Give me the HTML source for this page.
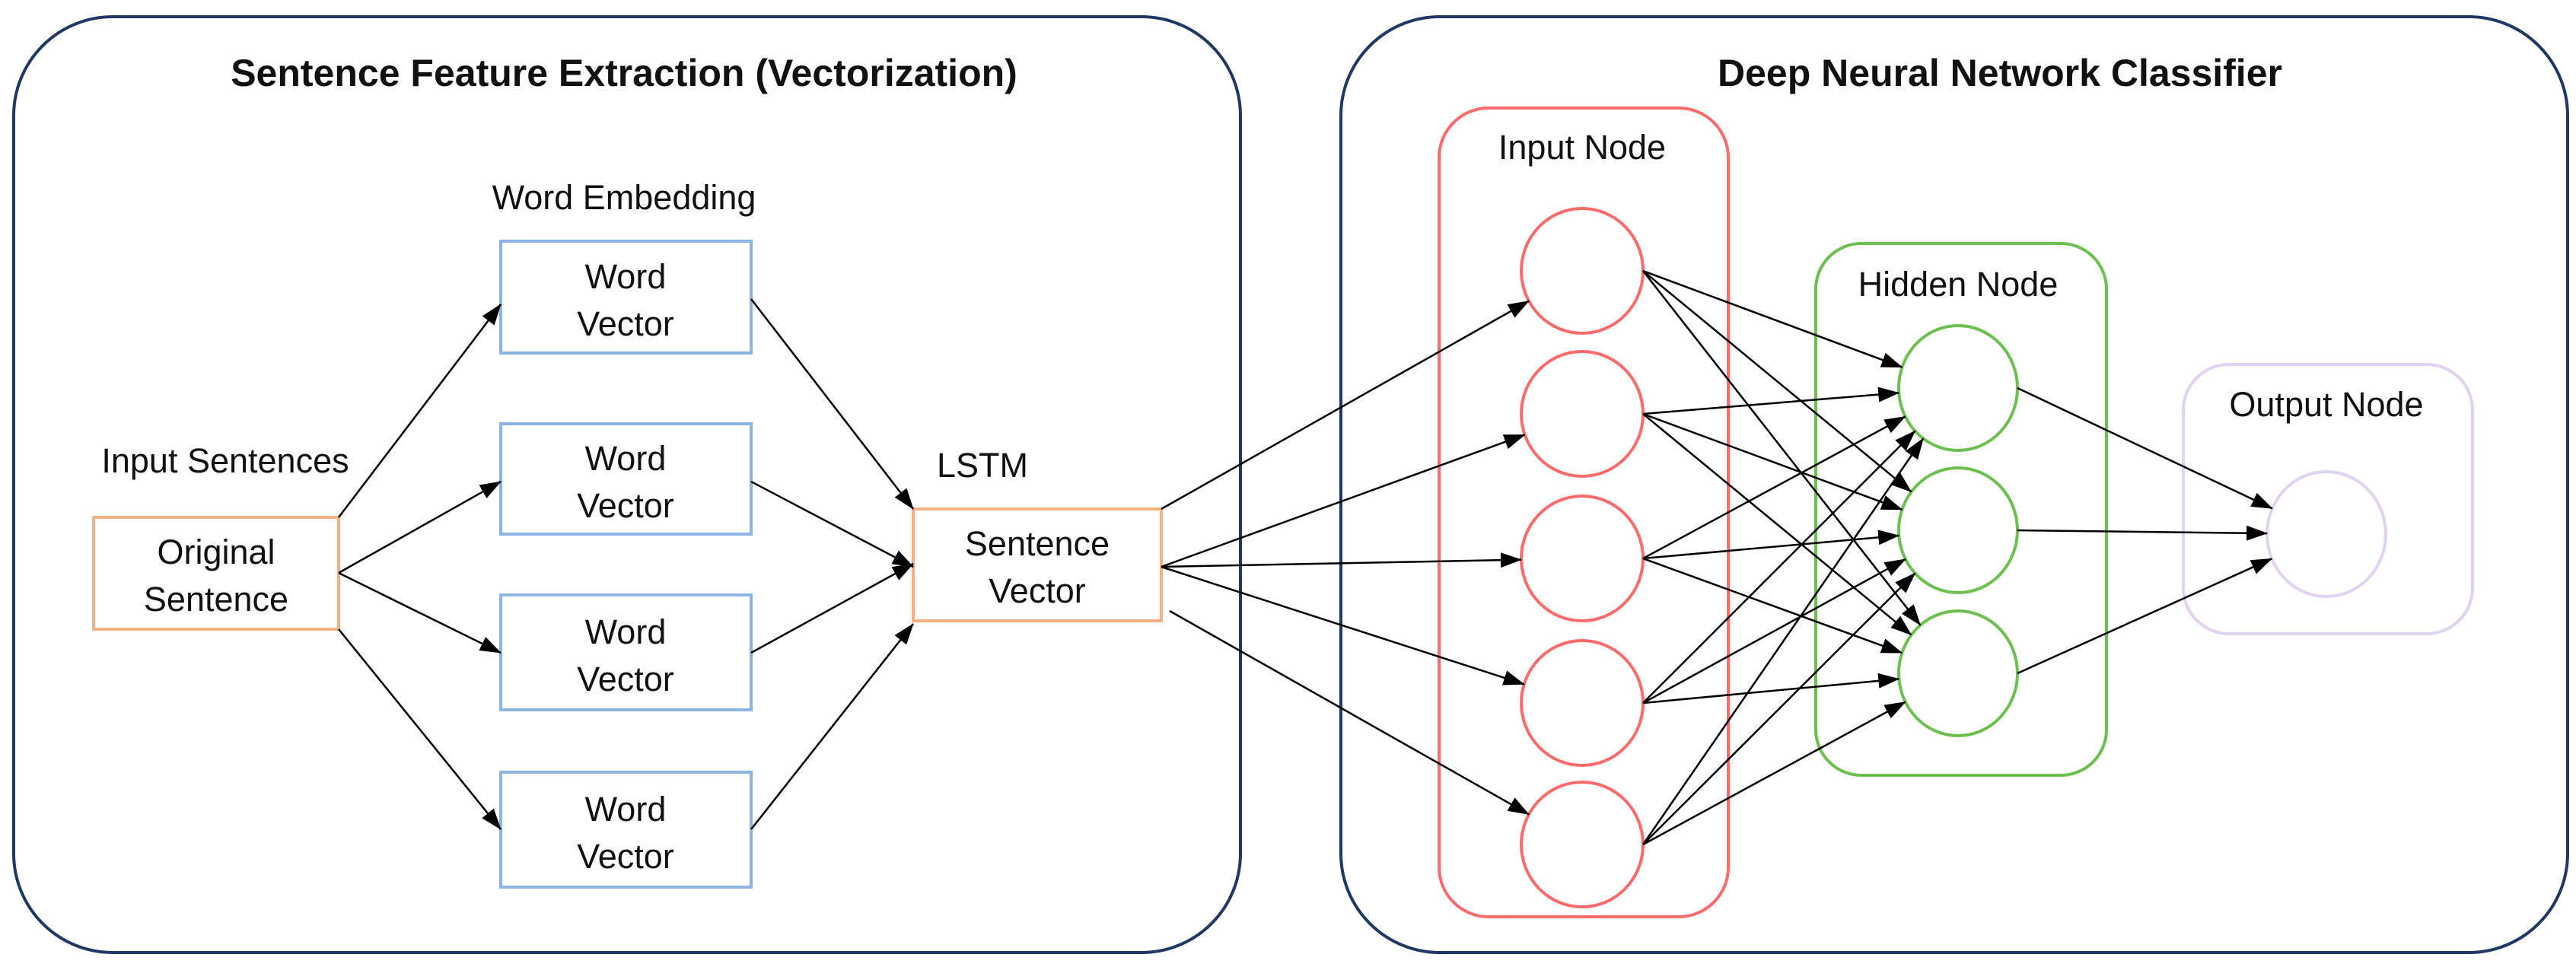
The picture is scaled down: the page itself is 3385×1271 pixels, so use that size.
<!DOCTYPE html>
<html><head><meta charset="utf-8"><style>
html,body{margin:0;padding:0;background:#fff;}
svg{display:block;}
text{font-family:"Liberation Sans",sans-serif;fill:#111;}
</style></head><body>
<svg id="s" width="3385" height="1271" viewBox="0 0 3385 1271" xmlns="http://www.w3.org/2000/svg">
<defs>
<marker id="a" markerWidth="28" markerHeight="20" refX="27" refY="10" orient="auto" markerUnits="userSpaceOnUse">
<path d="M0,0 L28,10 L0,20 z" fill="#000"/>
</marker>
</defs>
<rect x="18" y="22" width="1612" height="1230" rx="130" fill="none" stroke="#1f3864" stroke-width="4"/>
<rect x="1762" y="22" width="1612" height="1230" rx="130" fill="none" stroke="#1f3864" stroke-width="4"/>
<text x="820" y="113" font-size="50" font-weight="bold" text-anchor="middle">Sentence Feature Extraction (Vectorization)</text>
<text x="2628" y="113" font-size="50" font-weight="bold" text-anchor="middle">Deep Neural Network Classifier</text>

<g font-size="45" text-anchor="middle">
<text x="820" y="275">Word Embedding</text>
<text x="296" y="621">Input Sentences</text>
<text x="1291" y="627">LSTM</text>
<text x="2079" y="209">Input Node</text>
<text x="2573" y="389">Hidden Node</text>
<text x="3057" y="547">Output Node</text>
</g>

<g fill="none" stroke="#8db4e2" stroke-width="4">
<rect x="658" y="317" width="329" height="147"/>
<rect x="658" y="557" width="329" height="145"/>
<rect x="658" y="782" width="329" height="151"/>
<rect x="658" y="1015" width="329" height="151"/>
</g>
<g fill="none" stroke="#f4b183" stroke-width="4">
<rect x="123" y="680" width="322" height="147"/>
<rect x="1200" y="669" width="326" height="147"/>
</g>
<g font-size="45" text-anchor="middle">
<text x="822" y="379">Word</text><text x="822" y="441">Vector</text>
<text x="822" y="618">Word</text><text x="822" y="680">Vector</text>
<text x="822" y="846">Word</text><text x="822" y="908">Vector</text>
<text x="822" y="1079">Word</text><text x="822" y="1141">Vector</text>
<text x="284" y="741">Original</text><text x="284" y="803">Sentence</text>
<text x="1363" y="730">Sentence</text><text x="1363" y="792">Vector</text>
</g>

<rect x="1891" y="142" width="380" height="1063" rx="65" fill="none" stroke="#ff6b6b" stroke-width="4"/>
<rect x="2386" y="320" width="382" height="699" rx="60" fill="none" stroke="#6cc050" stroke-width="4"/>
<rect x="2869" y="479" width="380" height="354" rx="60" fill="none" stroke="#e2d2f2" stroke-width="4"/>

<g id="nodes"></g>
<g id="edges" stroke="#000" stroke-width="2.5" fill="none"></g>
</svg>
<script>
var NS="http://www.w3.org/2000/svg";
var nodes=document.getElementById('nodes'),edges=document.getElementById('edges');
function ell(cx,cy,rx,ry,c){var e=document.createElementNS(NS,'ellipse');e.setAttribute('cx',cx);e.setAttribute('cy',cy);e.setAttribute('rx',rx);e.setAttribute('ry',ry);e.setAttribute('fill','none');e.setAttribute('stroke',c);e.setAttribute('stroke-width',4);nodes.appendChild(e);}
function ln(x1,y1,x2,y2){var l=document.createElementNS(NS,'line');l.setAttribute('x1',x1);l.setAttribute('y1',y1);l.setAttribute('x2',x2);l.setAttribute('y2',y2);l.setAttribute('marker-end','url(#a)');edges.appendChild(l);}
var inp=[356,544,734,924,1110],hid=[510,697,885];
inp.forEach(function(y){ell(2079,y,80,82,'#ff6b6b');});
hid.forEach(function(y){ell(2573,y,78,82,'#6cc050');});
ell(3057,702,78,82,'#e2d2f2');
function edgeTo(x1,y1,cx,cy,rx,ry){var dx=x1-cx,dy=y1-cy;var t=1/Math.sqrt(dx*dx/(rx*rx)+dy*dy/(ry*ry));ln(x1,y1,cx+dx*t,cy+dy*t);}
ln(445,680,658,400);ln(445,753,658,633);ln(445,753,658,858);ln(445,827,658,1090);
ln(987,393,1200,669);ln(987,633,1200,745);ln(987,858,1200,741);ln(987,1090,1200,820);
edgeTo(1526,669,2079,356,80,82);
edgeTo(1526,745,2079,544,80,82);
edgeTo(1526,745,2079,734,80,82);
edgeTo(1526,745,2079,924,80,82);
edgeTo(1537,803,2079,1110,80,82);
inp.forEach(function(y){hid.forEach(function(h){edgeTo(2159,y,2573,h,78,82);});});
hid.forEach(function(h){edgeTo(2651,h,3057,702,78,82);});
</script>
</body></html>
